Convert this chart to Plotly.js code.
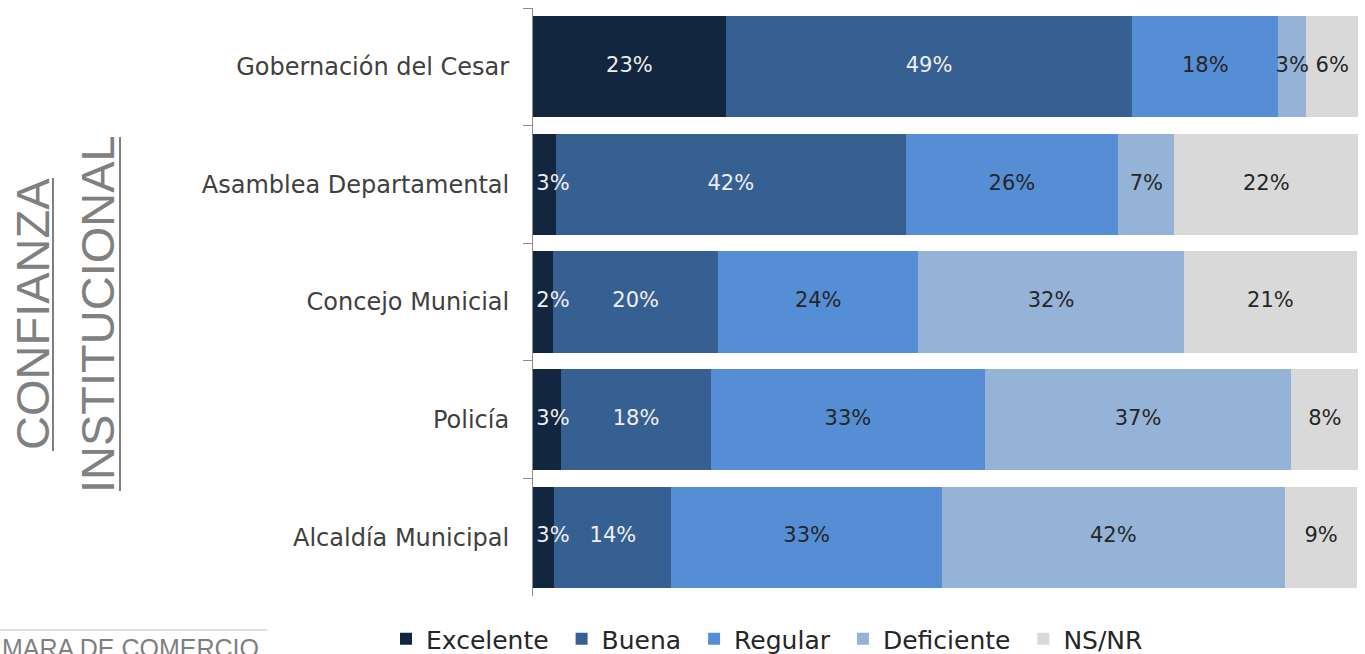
<!DOCTYPE html>
<html>
<head>
<meta charset="utf-8">
<script src="https://cdn.plot.ly/plotly-3.0.1.min.js"></script>
<style>html,body{margin:0;padding:0;background:#fff;}#chart{width:1365px;height:654px;}</style>
</head>
<body>
<div id="chart"></div>
<script>
const categories = ["Gobernación del Cesar", "Asamblea Departamental", "Concejo Municial", "Policía", "Alcaldía Municipal"];
const seriesNames = ["Excelente", "Buena", "Regular", "Deficiente", "NS/NR"];
const excelente = [23.4, 2.8, 2.4, 3.4, 2.6];
const buena = [49.3, 42.4, 20.1, 18.2, 14.2];
const regular = [17.7, 25.8, 24.2, 33.2, 32.8];
const deficiente = [3.4, 6.8, 32.3, 37.2, 41.6];
const nsnr = [6.3, 22.3, 20.9, 8.1, 8.8];

const values = [excelente, buena, regular, deficiente, nsnr];
const colors = ["#13263f", "#376092", "#558ed5", "#95b3d7", "#d9d9d9"];
const textColors = ["#eeeeee", "#eeeeee", "#262626", "#262626", "#262626"];

const FONT = "DejaVu Sans, Liberation Sans, sans-serif";
const NB = "\u00a0";

const barTraces = seriesNames.map((name, i) => ({
  type: "bar",
  orientation: "h",
  name: name + NB,
  y: categories,
  x: values[i],
  marker: {color: colors[i], line: {width: 0}},
  hoverinfo: "none"
}));

// value labels drawn above all bars so narrow-segment labels can overflow
const labelTraces = seriesNames.map((name, i) => {
  const xs = [], pos = [];
  values[i].forEach((v, j) => {
    let start = 0;
    for (let k = 0; k < i; k++) start += values[k][j];
    if (i === 0 && v < 5) { xs.push(start + 0.4); pos.push("middle right"); }
    else { xs.push(start + v / 2); pos.push("middle center"); }
  });
  return {
    type: "scatter", mode: "text", showlegend: false, hoverinfo: "none",
    y: categories, x: xs,
    text: values[i].map(v => Math.round(v) + "%"),
    textposition: pos,
    cliponaxis: false,
    textfont: {family: FONT, size: 21, color: textColors[i]}
  };
});

const W = 1365, H = 654;
const L = 533, R = 6, T = 8, B = 58;
const pw = W - L - R, ph = H - T - B;
const px = v => (v - L) / pw;
const py = v => (H - B - v) / ph;

const layout = {
  width: W, height: H,
  margin: {l: L, r: R, t: T, b: B, pad: 0, autoexpand: false},
  paper_bgcolor: "#ffffff",
  plot_bgcolor: "#ffffff",
  barmode: "stack",
  bargap: 0.14,
  showlegend: true,
  font: {family: FONT, color: "#404040"},
  xaxis: {range: [0, 100.2], visible: false, fixedrange: true},
  yaxis: {
    autorange: "reversed",
    showline: true, linecolor: "#8c8c8c", linewidth: 1,
    ticks: "outside", tickson: "boundaries", ticklen: 9, tickcolor: "#8c8c8c",
    ticklabelstandoff: 18,
    tickfont: {family: FONT, size: 24, color: "#404040"},
    showgrid: false, zeroline: false
  },
  legend: {
    orientation: "h",
    x: px(386), xanchor: "left",
    y: py(639), yanchor: "middle",
    font: {family: FONT, size: 25, color: "#262626"},
    traceorder: "normal",
    itemwidth: 30
  },
  annotations: [
    {text: "CONFIANZA", xref: "paper", yref: "paper", x: px(32), y: py(314), textangle: -90,
     showarrow: false, xanchor: "center", yanchor: "middle",
     font: {family: "Liberation Sans, sans-serif", size: 47, color: "#808080"}},
    {text: "INSTITUCIONAL", xref: "paper", yref: "paper", x: px(97), y: py(314), textangle: -90,
     showarrow: false, xanchor: "center", yanchor: "middle",
     font: {family: "Liberation Sans, sans-serif", size: 47, color: "#808080"}},
    {text: "MARA DE COMERCIO", xref: "paper", yref: "paper", x: px(0), y: py(632), xanchor: "left", yanchor: "top",
     showarrow: false, font: {family: "Liberation Sans, sans-serif", size: 25, color: "#7f7f7f"}}
  ],
  shapes: [
    {type: "line", xref: "paper", yref: "paper", x0: px(53), x1: px(53), y0: py(178), y1: py(451),
     line: {color: "#808080", width: 2}},
    {type: "line", xref: "paper", yref: "paper", x0: px(120), x1: px(120), y0: py(137), y1: py(491),
     line: {color: "#808080", width: 2}},
    {type: "line", xref: "paper", yref: "paper", x0: px(0), x1: px(267), y0: py(630), y1: py(630),
     line: {color: "#e0e0e0", width: 2}}
  ]
};

Plotly.newPlot("chart", barTraces.concat(labelTraces), layout, {displayModeBar: false, staticPlot: true});
</script>
</body>
</html>
